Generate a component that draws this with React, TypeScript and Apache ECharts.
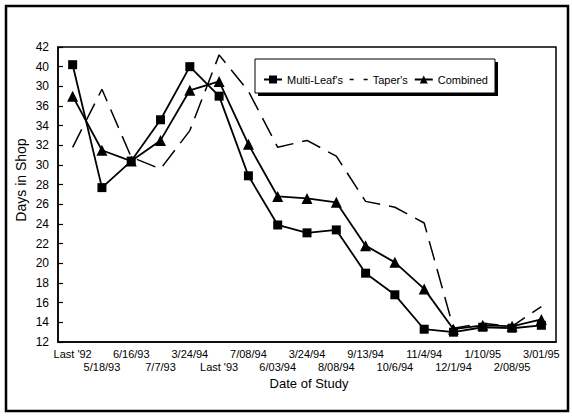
import React, { useEffect, useRef } from "react";
import * as echarts from "echarts";

const categories = [
  "Last '92", "5/18/93", "6/16/93", "7/7/93", "3/24/94", "Last '93", "7/08/94", "6/03/94",
  "3/24/94", "8/08/94", "9/13/94", "10/6/94", "11/4/94", "12/1/94", "1/10/95", "2/08/95", "3/01/95",
];
const multiLeaf = [40.2, 27.7, 30.4, 34.6, 40.0, 37.0, 28.9, 23.9, 23.1, 23.4, 19.0, 16.8, 13.3, 13.0, 13.5, 13.4, 13.7];
const tapers = [31.8, 37.7, 30.8, 29.6, 33.5, 41.2, 37.5, 31.8, 32.5, 30.9, 26.3, 25.7, 24.1, 13.4, 13.9, 13.6, 15.6];
const combined = [37.0, 31.5, 30.4, 32.5, 37.6, 38.5, 32.1, 26.8, 26.6, 26.2, 21.8, 20.1, 17.4, 13.3, 13.7, 13.6, 14.3];
const yTickLabels = ["12", "14", "16", "18", "20", "22", "24", "26", "28", "30", "32", "34", "36", "30", "40", "42"];

const FONT = "'Liberation Sans', Arial, sans-serif";

export default function App() {
  const ref = useRef<HTMLDivElement>(null);
  useEffect(() => {
    document.body.style.margin = "0";
    const chart = echarts.init(ref.current!, undefined, { renderer: "svg" });
    chart.setOption({
      animation: false,
      backgroundColor: "#fff",
      textStyle: { fontFamily: FONT, color: "#000" },
      grid: {
        left: 58, top: 47, right: 16, bottom: 75,
        show: true, borderColor: "#000", borderWidth: 1.5,
      },
      legend: {
        left: 263, top: 74, padding: 0,
        itemWidth: 18, itemHeight: 10, itemGap: 6,
        textStyle: { fontSize: 11, color: "#000", fontFamily: FONT },
        data: [
          { name: "Multi-Leaf's" },
          { name: "Taper's", itemStyle: { opacity: 0 }, lineStyle: { type: [4, 10], width: 1.5, color: "#000" } },
          { name: "Combined" },
        ],
        z: 10,
      },
      graphic: [
        { type: "rect", z: 5, shape: { x: 6, y: 6, width: 562, height: 405 }, style: { fill: "none", stroke: "#000", lineWidth: 2.5 } },
        { type: "rect", z: 5, shape: { x: 258, y: 62, width: 240, height: 34 }, style: { fill: "#000" } },
        { type: "rect", z: 5, shape: { x: 255, y: 59, width: 240, height: 34 }, style: { fill: "#fff", stroke: "#000", lineWidth: 1 } },
        { type: "text", z: 5, x: 14, y: 180, rotation: Math.PI / 2, style: { text: "Days in Shop", font: `14px ${FONT}`, fill: "#000", align: "center", verticalAlign: "top" } },
        { type: "text", z: 5, x: 309, y: 383, style: { text: "Date of Study", font: `13px ${FONT}`, fill: "#000", align: "center", verticalAlign: "middle" } },
      ],
      xAxis: {
        type: "category",
        data: categories,
        boundaryGap: true,
        axisLine: { lineStyle: { color: "#000", width: 1.5 } },
        axisTick: { alignWithLabel: true, inside: true, length: 5, interval: 0, lineStyle: { color: "#000", width: 1.2 } },
        axisLabel: {
          interval: 0, margin: 5, fontSize: 11, lineHeight: 13, color: "#000", fontFamily: FONT,
          formatter: (v: string, i: number) => (i % 2 === 1 ? "\n" + v : v),
        },
        splitLine: { show: false },
      },
      yAxis: {
        type: "value",
        min: 12, max: 42, interval: 2,
        axisLine: { show: true, lineStyle: { color: "#000", width: 1.5 } },
        axisTick: { show: true, inside: true, length: 5, lineStyle: { color: "#000", width: 1.2 } },
        axisLabel: {
          margin: 9, fontSize: 12, color: "#000", fontFamily: FONT,
          formatter: (v: number) => yTickLabels[Math.round((v - 12) / 2)] ?? "",
        },
        splitLine: { show: false },
      },
      series: [
        {
          name: "Multi-Leaf's", type: "line", data: multiLeaf,
          symbol: "rect", symbolSize: 9,
          lineStyle: { color: "#000", width: 1.8 },
          itemStyle: { color: "#000" },
        },
        {
          name: "Taper's", type: "line", data: tapers,
          symbol: "none", showSymbol: false,
          lineStyle: { color: "#000", width: 1.5, type: [20, 9] },
          itemStyle: { color: "#000" },
        },
        {
          name: "Combined", type: "line", data: combined,
          symbol: "triangle", symbolSize: 11,
          lineStyle: { color: "#000", width: 1.8 },
          itemStyle: { color: "#000" },
        },
      ],
    });
    return () => chart.dispose();
  }, []);
  return <div ref={ref} style={{ position: "fixed", left: 0, top: 0, width: 572, height: 417 }} />;
}
